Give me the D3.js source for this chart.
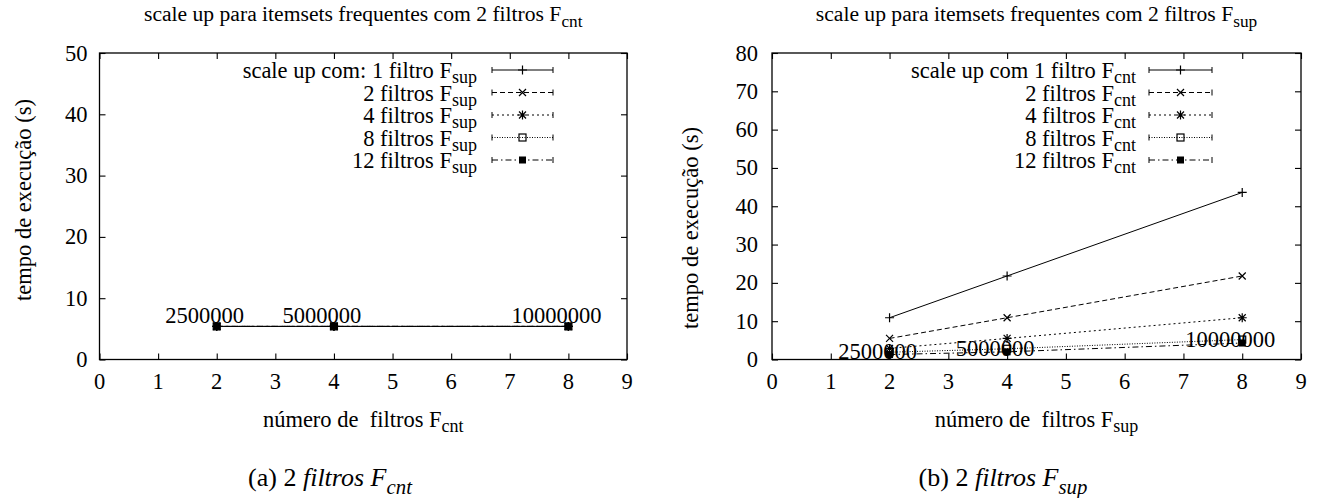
<!DOCTYPE html>
<html><head><meta charset="utf-8">
<script src="https://cdn.jsdelivr.net/npm/d3@7"></script>
<style>
body{margin:0;background:#fff}
</style></head><body>
<svg id="c" width="1324" height="498" xmlns="http://www.w3.org/2000/svg"></svg>
<script>
// ---------- data ----------
const xTicks = [0,1,2,3,4,5,6,7,8,9];
const leftYTicks = [0,10,20,30,40,50];
const rightYTicks = [0,10,20,30,40,50,60,70,80];
const filters = [2,4,8];
const leftSeries1 = [5.4,5.4,5.4];
const leftSeries2 = [5.4,5.4,5.4];
const leftSeries3 = [5.4,5.4,5.4];
const leftSeries4 = [5.4,5.4,5.4];
const leftSeries5 = [5.4,5.4,5.4];
const rightSeries1 = [10.9,21.8,43.6];
const rightSeries2 = [5.5,10.9,21.8];
const rightSeries3 = [2.9,5.5,10.9];
const rightSeries4 = [1.9,2.8,5.2];
const rightSeries5 = [1.3,2.0,4.3];
const pointLabels = ["2500000","5000000","10000000"];
const leftLabelY = [7.2,7.2,7.2];
const rightLabelY = [2.0,2.9,5.1];
const leftLegend = ["scale up com: 1 filtro ","2 filtros ","4 filtros ","8 filtros ","12 filtros "];
const rightLegend = ["scale up com 1 filtro ","2 filtros ","4 filtros ","8 filtros ","12 filtros "];
const titleText = "scale up para itemsets frequentes com 2 filtros F";
const xTitleText = "número de  filtros F";
const yTitleText = "tempo de execução (s)";

// ---------- styles ----------
const FONT = "'Liberation Serif', Tinos, 'Times New Roman', Times, 'Nimbus Roman', 'DejaVu Serif', serif";
const FS = 22.5;
const TFS = 21.6;
const dashes = [null, "5,3", "2,3", "1,1.5", "6,3,1.5,3"];
const markers = ["plus","cross","star","box","fbox"];

const svg = d3.select("#c").attr("font-family", FONT).style("font-family", FONT);

function txt(g){
  return g.append("text").attr("font-family", FONT).style("font-family", FONT)
    .style("white-space","pre").attr("fill","#000");
}

function rich(g, x, y, parts, anchor, size){
  const t = txt(g).attr("x",x).attr("y",y)
    .attr("text-anchor",anchor).attr("dominant-baseline","central")
    .style("font-size",size+"px");
  parts.forEach(p=>{
    const s = t.append("tspan").text(p.t);
    if (p.italic) s.style("font-style","italic");
    if (p.sub){ s.style("font-size",(size*0.8)+"px").attr("dy",size*0.33); }
  });
  return t;
}

function marker(g, type, x, y){
  const s = 4.5, c = 3.5, b = 3.5;
  if (type==="plus"){
    g.append("path").attr("d",`M${x-s},${y}H${x+s}M${x},${y-s}V${y+s}`).attr("stroke","#000").attr("stroke-width",1.2);
  } else if (type==="cross"){
    g.append("path").attr("d",`M${x-c},${y-c}L${x+c},${y+c}M${x-c},${y+c}L${x+c},${y-c}`).attr("stroke","#000").attr("stroke-width",1.2);
  } else if (type==="star"){
    g.append("path").attr("d",`M${x-s},${y}H${x+s}M${x},${y-s}V${y+s}M${x-c},${y-c}L${x+c},${y+c}M${x-c},${y+c}L${x+c},${y-c}`).attr("stroke","#000").attr("stroke-width",1.2);
  } else if (type==="box"){
    g.append("rect").attr("x",x-b).attr("y",y-b).attr("width",2*b).attr("height",2*b).attr("fill","none").attr("stroke","#000").attr("stroke-width",1.2);
  } else {
    g.append("rect").attr("x",x-b).attr("y",y-b).attr("width",2*b).attr("height",2*b).attr("fill","#000");
  }
}

function chart(cfg){
  const g = svg.append("g");
  const x = d3.scaleLinear().domain([0,9]).range([cfg.left, cfg.right]);
  const y = d3.scaleLinear().domain([0,cfg.yMax]).range([cfg.bottom, cfg.top]);
  const tl = 6;

  g.append("rect").attr("x",cfg.left).attr("y",cfg.top)
    .attr("width",cfg.right-cfg.left).attr("height",cfg.bottom-cfg.top)
    .attr("fill","none").attr("stroke","#000").attr("stroke-width",1.3);

  const ax = g.append("g").attr("transform",`translate(0,${cfg.bottom})`)
    .call(d3.axisBottom(x).tickValues(xTicks).tickSize(-tl).tickFormat(""));
  const axT = g.append("g").attr("transform",`translate(0,${cfg.top})`)
    .call(d3.axisTop(x).tickValues(xTicks).tickSize(-tl).tickFormat(""));
  const ay = g.append("g").attr("transform",`translate(${cfg.left},0)`)
    .call(d3.axisLeft(y).tickValues(cfg.yTicks).tickSize(-tl).tickFormat(""));
  const ayR = g.append("g").attr("transform",`translate(${cfg.right},0)`)
    .call(d3.axisRight(y).tickValues(cfg.yTicks).tickSize(-tl).tickFormat(""));
  [ax,axT,ay,ayR].forEach(a=>{ a.select(".domain").remove(); a.selectAll("line").attr("stroke","#000").attr("stroke-width",1.1); });

  xTicks.forEach(v=>{
    txt(g).attr("x",x(v)).attr("y",cfg.bottom+22).attr("text-anchor","middle")
      .attr("dominant-baseline","central").style("font-size",FS+"px").text(v);
  });
  cfg.yTicks.forEach(v=>{
    txt(g).attr("x",cfg.left-cfg.yLabGap).attr("y",y(v)).attr("text-anchor","end")
      .attr("dominant-baseline","central").style("font-size",FS+"px").text(v);
  });

  rich(g, (cfg.left+cfg.right)/2, 14, [{t:titleText},{t:cfg.titleSub,sub:true}], "middle", TFS);
  rich(g, (cfg.left+cfg.right)/2, 419, [{t:xTitleText},{t:cfg.xSub,sub:true}], "middle", FS);
  txt(g).attr("transform",`translate(${cfg.yTitleX},${cfg.yTitleY}) rotate(-90)`)
    .attr("text-anchor","middle").attr("dominant-baseline","central")
    .style("font-size",FS+"px").text(yTitleText);

  rich(g, cfg.capX, 477, [{t:`(${cfg.capLetter}) 2 `},{t:"filtros",italic:true},{t:" "},{t:"F",italic:true},{t:cfg.capSub,italic:true,sub:true}], "middle", 26);

  pointLabels.forEach((l,i)=>{
    txt(g).attr("x",x(filters[i])-12).attr("y",y(cfg.labelY[i]))
      .attr("text-anchor","middle").attr("dominant-baseline","central")
      .style("font-size",FS+"px").text(l);
  });

  const line = d3.line().x((d,i)=>x(filters[i])).y(d=>y(d));
  cfg.series.forEach((s,k)=>{
    g.append("path").datum(s).attr("d",line).attr("fill","none")
      .attr("stroke","#000").attr("stroke-width",1)
      .attr("stroke-dasharray",dashes[k]);
    s.forEach((v,i)=>marker(g, markers[k], x(filters[i]), y(v)));
  });

  cfg.legend.forEach((t,k)=>{
    const ry = cfg.legTop + k*22.5;
    rich(g, cfg.legTextX, ry, [{t:t+"F"},{t:cfg.legSub,sub:true}], "end", FS);
    g.append("line").attr("x1",cfg.legA).attr("x2",cfg.legB).attr("y1",ry).attr("y2",ry)
      .attr("stroke","#000").attr("stroke-width",1).attr("stroke-dasharray",dashes[k]);
    g.append("path").attr("d",`M${cfg.legA},${ry-3}V${ry+3}M${cfg.legB},${ry-3}V${ry+3}`)
      .attr("stroke","#000").attr("stroke-width",1);
    marker(g, markers[k], (cfg.legA+cfg.legB)/2, ry);
  });
}

chart({left:99.5, right:627, top:53, bottom:359.5, yMax:50, yTicks:leftYTicks,
  series:[leftSeries1,leftSeries2,leftSeries3,leftSeries4,leftSeries5],
  labelY:leftLabelY, legend:leftLegend, legSub:"sup", titleSub:"cnt", xSub:"cnt",
  yTitleX:23, yTitleY:200, yLabGap:12, capX:330, capLetter:"a", capSub:"cnt",
  legTop:70, legTextX:477, legA:492, legB:553});

chart({left:772, right:1301, top:53, bottom:359.5, yMax:80, yTicks:rightYTicks,
  series:[rightSeries1,rightSeries2,rightSeries3,rightSeries4,rightSeries5],
  labelY:rightLabelY, legend:rightLegend, legSub:"cnt", titleSub:"sup", xSub:"sup",
  yTitleX:690, yTitleY:228, yLabGap:14, capX:1003, capLetter:"b", capSub:"sup",
  legTop:70, legTextX:1136, legA:1149, legB:1212});
</script></body></html>
